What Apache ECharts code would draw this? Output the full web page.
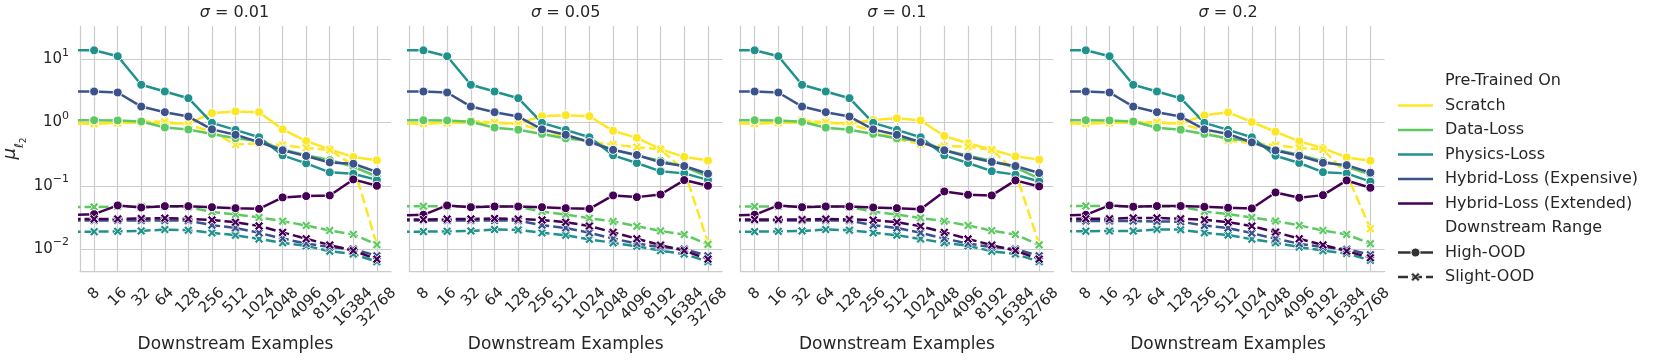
<!DOCTYPE html>
<html>
<head>
<meta charset="utf-8">
<script src="https://cdn.jsdelivr.net/npm/echarts@6/dist/echarts.min.js"></script>
<style>html,body{margin:0;padding:0;background:#fff}#c{width:1661px;height:360px}</style>
</head>
<body>
<div id="c"></div>
<script>
// Downstream example counts (4 lies just outside the visible x range; its segment enters from the left edge)
const sizes = [4, 8, 16, 32, 64, 128, 256, 512, 1024, 2048, 4096, 8192, 16384, 32768];
const sigmaLabels = ['0.01', '0.05', '0.1', '0.2'];
const hueNames = ['Scratch', 'Data-Loss', 'Physics-Loss', 'Hybrid-Loss (Expensive)', 'Hybrid-Loss (Extended)'];
const styleNames = ['High-OOD', 'Slight-OOD'];
const hueColors = ['#fde725', '#5ec962', '#21918c', '#3b528b', '#440154'];

// sigma = 0.01
const s1_scratch_high = [0.97, 0.97, 0.99, 0.99, 0.98, 0.97, 1.41, 1.50, 1.46, 0.78, 0.51, 0.377, 0.285, 0.253];
const s1_scratch_slight = [0.96, 0.96, 0.98, 1.04, 1.03, 0.92, 0.72, 0.448, 0.47, 0.44, 0.396, 0.37, 0.21, 0.0116];
const s1_data_high = [1.09, 1.09, 1.08, 1.04, 0.834, 0.775, 0.661, 0.564, 0.51, 0.375, 0.305, 0.255, 0.2, 0.14];
const s1_data_slight = [0.046, 0.046, 0.047, 0.047, 0.047, 0.046, 0.0385, 0.0351, 0.0314, 0.0275, 0.0235, 0.0196, 0.017, 0.0117];
const s1_physics_high = [13.9, 13.9, 11.2, 3.96, 3.10, 2.43, 0.99, 0.765, 0.585, 0.303, 0.226, 0.163, 0.155, 0.124];
const s1_physics_slight = [0.0188, 0.0188, 0.019, 0.0193, 0.0203, 0.0198, 0.018, 0.0165, 0.0144, 0.0125, 0.0112, 0.0092, 0.0083, 0.0063];
const s1_hexp_high = [3.10, 3.10, 2.99, 1.79, 1.46, 1.245, 0.78, 0.64, 0.49, 0.364, 0.296, 0.234, 0.223, 0.165];
const s1_hexp_slight = [0.0282, 0.0282, 0.0282, 0.0282, 0.0282, 0.028, 0.0238, 0.0215, 0.018, 0.0146, 0.0122, 0.0107, 0.01, 0.0078];
const s1_hext_high = [0.0345, 0.0355, 0.0488, 0.0453, 0.0476, 0.0476, 0.0458, 0.0442, 0.0431, 0.0654, 0.0686, 0.0703, 0.126, 0.100];
const s1_hext_slight = [0.0297, 0.0297, 0.0299, 0.0303, 0.0307, 0.0299, 0.0288, 0.0265, 0.0231, 0.0183, 0.0145, 0.01156, 0.0094, 0.0069];

// sigma = 0.05
const s2_scratch_high = [0.97, 0.97, 0.99, 0.99, 0.99, 0.97, 1.26, 1.31, 1.26, 0.74, 0.573, 0.38, 0.287, 0.25];
const s2_scratch_slight = [0.97, 0.97, 0.99, 1.06, 1.0, 0.944, 0.76, 0.594, 0.495, 0.45, 0.408, 0.375, 0.175, 0.0125];
const s2_data_high = [1.09, 1.09, 1.08, 1.03, 0.83, 0.77, 0.66, 0.56, 0.52, 0.37, 0.30, 0.25, 0.2, 0.14];
const s2_data_slight = [0.0475, 0.0475, 0.047, 0.047, 0.047, 0.0465, 0.039, 0.035, 0.0307, 0.0272, 0.0229, 0.0193, 0.0169, 0.0118];
const s2_physics_high = [13.9, 13.9, 11.2, 3.96, 3.10, 2.43, 0.99, 0.765, 0.585, 0.303, 0.229, 0.169, 0.157, 0.124];
const s2_physics_slight = [0.0188, 0.0188, 0.019, 0.0193, 0.0203, 0.02, 0.018, 0.0165, 0.0142, 0.0125, 0.011, 0.0094, 0.0083, 0.0063];
const s2_hexp_high = [3.10, 3.10, 2.99, 1.79, 1.46, 1.245, 0.78, 0.64, 0.49, 0.37, 0.307, 0.234, 0.205, 0.155];
const s2_hexp_slight = [0.0282, 0.0282, 0.0282, 0.0282, 0.0282, 0.028, 0.0238, 0.0215, 0.018, 0.0146, 0.0122, 0.0107, 0.01, 0.0078];
const s2_hext_high = [0.034, 0.0347, 0.0488, 0.0458, 0.047, 0.047, 0.0458, 0.0442, 0.0431, 0.0703, 0.0661, 0.0728, 0.123, 0.100];
const s2_hext_slight = [0.0292, 0.0292, 0.0297, 0.0299, 0.0303, 0.0297, 0.0288, 0.0265, 0.0231, 0.0183, 0.0145, 0.0115, 0.0094, 0.0069];

// sigma = 0.1
const s3_scratch_high = [0.97, 0.97, 0.99, 0.99, 0.99, 0.97, 1.10, 1.17, 1.08, 0.614, 0.47, 0.372, 0.292, 0.259];
const s3_scratch_slight = [0.97, 0.97, 0.99, 1.08, 1.01, 0.93, 0.746, 0.55, 0.458, 0.426, 0.416, 0.372, 0.165, 0.0118];
const s3_data_high = [1.09, 1.09, 1.08, 1.03, 0.83, 0.77, 0.66, 0.56, 0.51, 0.37, 0.30, 0.25, 0.195, 0.13];
const s3_data_slight = [0.047, 0.047, 0.047, 0.047, 0.047, 0.046, 0.039, 0.035, 0.031, 0.0275, 0.0235, 0.0195, 0.0169, 0.0116];
const s3_physics_high = [13.9, 13.9, 11.2, 3.96, 3.10, 2.43, 0.99, 0.765, 0.585, 0.303, 0.229, 0.17, 0.15, 0.117];
const s3_physics_slight = [0.0188, 0.0188, 0.019, 0.0193, 0.0203, 0.0198, 0.018, 0.0165, 0.0144, 0.0125, 0.0112, 0.0092, 0.0083, 0.0063];
const s3_hexp_high = [3.10, 3.10, 2.99, 1.79, 1.46, 1.245, 0.78, 0.64, 0.49, 0.364, 0.288, 0.238, 0.205, 0.159];
const s3_hexp_slight = [0.0282, 0.0282, 0.0282, 0.0282, 0.0282, 0.028, 0.0238, 0.0215, 0.018, 0.0146, 0.0122, 0.0107, 0.01, 0.0078];
const s3_hext_high = [0.034, 0.0347, 0.0488, 0.0458, 0.047, 0.047, 0.0453, 0.0442, 0.0426, 0.0813, 0.072, 0.0703, 0.1216, 0.0976];
const s3_hext_slight = [0.0292, 0.0292, 0.0292, 0.0292, 0.0297, 0.0295, 0.0286, 0.0265, 0.0229, 0.0183, 0.0144, 0.0115, 0.0094, 0.0069];

// sigma = 0.2
const s4_scratch_high = [0.97, 0.97, 0.99, 0.99, 0.99, 0.97, 1.30, 1.45, 1.02, 0.716, 0.503, 0.395, 0.281, 0.249];
const s4_scratch_slight = [0.97, 0.97, 0.99, 1.02, 1.01, 0.95, 0.75, 0.52, 0.473, 0.44, 0.395, 0.376, 0.155, 0.0208];
const s4_data_high = [1.09, 1.09, 1.08, 1.04, 0.83, 0.77, 0.66, 0.56, 0.51, 0.37, 0.31, 0.245, 0.2, 0.15];
const s4_data_slight = [0.0478, 0.0478, 0.0478, 0.047, 0.047, 0.047, 0.0393, 0.0356, 0.0315, 0.0276, 0.0236, 0.0196, 0.017, 0.0121];
const s4_physics_high = [13.9, 13.9, 11.2, 3.96, 3.10, 2.43, 0.99, 0.765, 0.585, 0.299, 0.229, 0.164, 0.157, 0.116];
const s4_physics_slight = [0.0191, 0.0191, 0.0192, 0.0192, 0.0204, 0.0202, 0.018, 0.0166, 0.0143, 0.0125, 0.0107, 0.0094, 0.0085, 0.0066];
const s4_hexp_high = [3.10, 3.10, 2.99, 1.79, 1.46, 1.245, 0.78, 0.658, 0.485, 0.362, 0.298, 0.231, 0.212, 0.161];
const s4_hexp_slight = [0.0276, 0.0276, 0.0276, 0.0276, 0.0272, 0.027, 0.0235, 0.0214, 0.0178, 0.0145, 0.0121, 0.0107, 0.0099, 0.0081];
const s4_hext_high = [0.034, 0.0347, 0.0489, 0.0466, 0.0478, 0.0478, 0.0464, 0.0449, 0.0438, 0.0784, 0.0645, 0.0711, 0.1214, 0.0929];
const s4_hext_slight = [0.030, 0.030, 0.030, 0.031, 0.031, 0.030, 0.029, 0.0266, 0.023, 0.0185, 0.0145, 0.0116, 0.00924, 0.00725];

const panels = [
  [[s1_scratch_high, s1_scratch_slight], [s1_data_high, s1_data_slight], [s1_physics_high, s1_physics_slight], [s1_hexp_high, s1_hexp_slight], [s1_hext_high, s1_hext_slight]],
  [[s2_scratch_high, s2_scratch_slight], [s2_data_high, s2_data_slight], [s2_physics_high, s2_physics_slight], [s2_hexp_high, s2_hexp_slight], [s2_hext_high, s2_hext_slight]],
  [[s3_scratch_high, s3_scratch_slight], [s3_data_high, s3_data_slight], [s3_physics_high, s3_physics_slight], [s3_hexp_high, s3_hexp_slight], [s3_hext_high, s3_hext_slight]],
  [[s4_scratch_high, s4_scratch_slight], [s4_data_high, s4_data_slight], [s4_physics_high, s4_physics_slight], [s4_hexp_high, s4_hexp_slight], [s4_hext_high, s4_hext_slight]]
];

const FONT = "'DejaVu Sans', 'Noto Sans', sans-serif";
const TXT = '#262626';
const GRIDC = '#cccccc';
const X_PATH = 'path://M0,2.2 L2.2,0 L5,2.8 L7.8,0 L10,2.2 L7.2,5 L10,7.8 L7.8,10 L5,7.2 L2.2,10 L0,7.8 L2.8,5 Z';
const X_POLY = [[0,2.2],[2.2,0],[5,2.8],[7.8,0],[10,2.2],[7.2,5],[10,7.8],[7.8,10],[5,7.2],[2.2,10],[0,7.8],[2.8,5]];

const GRID_LEFT0 = 78, GRID_STEP = 331.2, GRID_W = 313, GRID_TOP = 26, GRID_H = 245;
const TICK_FS = 15;
const PADU = 0.318 * TICK_FS;

const xRich = {};
for (let n = 1; n <= 5; n++) {
  xRich['p' + n] = { fontSize: TICK_FS, fontFamily: FONT, color: TXT, padding: [PADU * n, PADU * n, 0, 0] };
}

const grids = [], xAxes = [], yAxes = [], titles = [], series = [];
for (let p = 0; p < 4; p++) {
  const left = GRID_LEFT0 + GRID_STEP * p;
  grids.push({ left: left, top: GRID_TOP, width: GRID_W, height: GRID_H });
  titles.push({
    text: '{i|σ} = ' + sigmaLabels[p],
    left: left + GRID_W / 2, top: 5, textAlign: 'center', padding: 0,
    textStyle: { fontSize: 16, fontWeight: 'normal', fontFamily: FONT, color: TXT,
      rich: { i: { fontSize: 16, fontStyle: 'italic', fontFamily: FONT, color: TXT } } }
  });
  xAxes.push({
    type: 'value', gridIndex: p, min: 2.4, max: 15.6, minInterval: 1, maxInterval: 1, splitNumber: 13,
    name: 'Downstream Examples', nameLocation: 'middle', nameGap: 63,
    nameTextStyle: { fontSize: 17, fontFamily: FONT, color: TXT },
    axisLine: { show: true, lineStyle: { color: GRIDC, width: 1.25 } },
    axisTick: { show: false },
    splitLine: { show: true, showMinLine: false, showMaxLine: false, lineStyle: { color: GRIDC, width: 1.2 } },
    axisLabel: {
      rotate: 45, align: 'center', verticalAlign: 'middle', margin: 19.5, hideOverlap: false,
      showMinLabel: false, showMaxLabel: false,
      fontSize: TICK_FS, fontFamily: FONT, color: TXT, rich: xRich,
      formatter: function (v) {
        const r = Math.round(v);
        if (Math.abs(v - r) > 1e-6 || r < 3 || r > 15) return '';
        const s = String(Math.pow(2, r));
        return '{p' + s.length + '|' + s + '}';
      }
    }
  });
  yAxes.push({
    type: 'log', logBase: 10, gridIndex: p, min: 0.00448, max: 33.7,
    name: p === 0 ? '{m|μ}{l|ℓ}{d|2}' : '', nameLocation: 'middle', nameGap: 58, nameRotate: 90,
    nameTextStyle: { fontFamily: FONT, color: TXT, rich: {
      m: { fontSize: 18, fontStyle: 'italic', fontFamily: FONT, color: TXT, lineHeight: 24, verticalAlign: 'middle' },
      l: { fontSize: 12, fontStyle: 'italic', fontFamily: FONT, color: TXT, lineHeight: 12, verticalAlign: 'bottom', padding: [0, 0, -4, 0] },
      d: { fontSize: 9, fontFamily: FONT, color: TXT, lineHeight: 10, verticalAlign: 'bottom', padding: [0, 0, -6, 0] } } },
    axisLine: { show: true, lineStyle: { color: GRIDC, width: 1.25 } },
    axisTick: { show: false },
    splitLine: { show: true, showMinLine: false, showMaxLine: false, lineStyle: { color: GRIDC, width: 1.2 } },
    axisLabel: {
      show: p === 0, margin: 11, showMinLabel: false, showMaxLabel: false, hideOverlap: false,
      fontFamily: FONT, color: TXT,
      rich: {
        b: { fontSize: 15, fontFamily: FONT, color: TXT, lineHeight: 24 },
        s: { fontSize: 11, fontFamily: FONT, color: TXT, lineHeight: 12, verticalAlign: 'top' }
      },
      formatter: function (v) {
        const e = Math.round(Math.log10(v));
        if (Math.abs(Math.log10(v) - e) > 1e-3) return '';
        return '{b|10}{s|' + (e < 0 ? '\u2212' + (-e) : String(e)) + '}';
      }
    }
  });
  for (let h = 0; h < 5; h++) {
    for (let s = 0; s < 2; s++) {
      const vals = panels[p][h][s];
      series.push({
        type: 'line', name: hueNames[h] + ' / ' + styleNames[s],
        xAxisIndex: p, yAxisIndex: p, clip: true,
        data: sizes.map((n, i) => [Math.log2(n), vals[i]]),
        symbol: s === 0 ? 'circle' : X_PATH,
        symbolSize: 9,
        showAllSymbol: true,
        color: hueColors[h],
        lineStyle: { color: hueColors[h], width: 2.5, type: s === 0 ? 'solid' : [10, 4] },
        itemStyle: { color: hueColors[h], borderColor: '#ffffff', borderWidth: s === 0 ? 1 : 0.8 },
        emphasis: { disabled: true },
        animation: false
      });
    }
  }
}

// legend (drawn as graphics)
const legendRows = ['Pre-Trained On', 'Scratch', 'Data-Loss', 'Physics-Loss', 'Hybrid-Loss (Expensive)', 'Hybrid-Loss (Extended)', 'Downstream Range', 'High-OOD', 'Slight-OOD'];
const legendY = [81, 105.5, 130, 154.5, 179, 203.5, 228, 252.5, 277];
const LX1 = 1398, LX2 = 1433, LTX = 1445;
const graphics = [];
legendRows.forEach((t, i) => {
  graphics.push({ type: 'text', x: LTX, y: legendY[i], style: { text: t, fontSize: 16, fontFamily: FONT, fill: TXT, verticalAlign: 'middle', align: 'left' } });
});
for (let h = 0; h < 5; h++) {
  graphics.push({ type: 'line', shape: { x1: LX1, y1: legendY[h + 1], x2: LX2, y2: legendY[h + 1] }, style: { stroke: hueColors[h], lineWidth: 2.5 } });
}
graphics.push({ type: 'line', shape: { x1: LX1, y1: legendY[7], x2: LX2, y2: legendY[7] }, style: { stroke: '#333333', lineWidth: 2.5 } });
graphics.push({ type: 'circle', shape: { cx: (LX1 + LX2) / 2, cy: legendY[7], r: 4.5 }, style: { fill: '#333333', stroke: '#ffffff', lineWidth: 1 } });
graphics.push({ type: 'line', shape: { x1: LX1, y1: legendY[8], x2: LX2, y2: legendY[8] }, style: { stroke: '#333333', lineWidth: 2.5, lineDash: [10, 4] } });
const cxL = (LX1 + LX2) / 2;
graphics.push({ type: 'polygon',
  shape: { points: X_POLY.map(pt => [cxL - 4.5 + pt[0] * 0.9, legendY[8] - 4.5 + pt[1] * 0.9]) },
  style: { fill: '#333333', stroke: '#ffffff', lineWidth: 0.8 } });

const chart = echarts.init(document.getElementById('c'), null, { renderer: 'canvas' });
chart.setOption({
  backgroundColor: '#ffffff',
  animation: false,
  title: titles,
  grid: grids,
  xAxis: xAxes,
  yAxis: yAxes,
  series: series,
  graphic: graphics
});
</script>
</body>
</html>
